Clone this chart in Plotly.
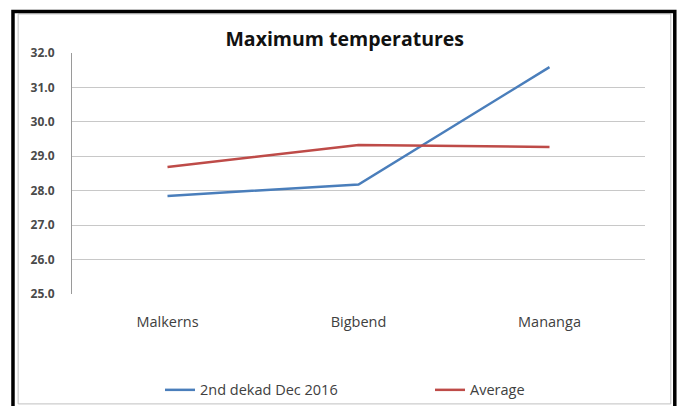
import plotly.graph_objects as go

categories = ["Malkerns", "Bigbend", "Mananga"]
dekad_dec_2016 = [27.85, 28.18, 31.59]
average = [28.69, 29.33, 29.27]
y_ticks = [25, 26, 27, 28, 29, 30, 31, 32]
y_tick_labels = ["25.0", "26.0", "27.0", "28.0", "29.0", "30.0", "31.0", "32.0"]

fig = go.Figure()
fig.add_trace(go.Scatter(x=categories, y=dekad_dec_2016, mode="lines",
                         name="2nd dekad Dec 2016",
                         line=dict(color="#4A7EBB", width=2.5)))
fig.add_trace(go.Scatter(x=categories, y=average, mode="lines",
                         name="Average",
                         line=dict(color="#BE4B48", width=2.5)))

fig.update_layout(
    width=681, height=406,
    margin=dict(l=72, r=36, t=53, b=112, autoexpand=False),
    paper_bgcolor="white", plot_bgcolor="white",
    font=dict(family="Open Sans, Liberation Sans, sans-serif", color="#404040"),
    title=dict(text="<b>Maximum temperatures</b>", x=0.476, xanchor="center",
               xref="paper", y=0.903, yanchor="middle",
               font=dict(size=19.5, color="#111111", family="Open Sans, sans-serif")),
    xaxis=dict(type="category", range=[-0.5, 2.5], showgrid=False,
               showline=False, ticks="", ticklabelstandoff=17, automargin=False,
               tickfont=dict(size=14.5, color="#404040")),
    yaxis=dict(range=[25, 32], tickvals=y_ticks, ticktext=y_tick_labels,
               showgrid=True, gridcolor="#C8C8C8", gridwidth=1,
               showline=True, linecolor="#9A9A9A", linewidth=1,
               ticks="", ticklabelstandoff=14, zeroline=False, automargin=False,
               tickfont=dict(size=12, color="#4A4A4A", weight="bold")),
    legend=dict(orientation="h", x=0.1536, xanchor="left", y=-0.398, yanchor="middle",
                font=dict(size=14.5, color="#404040"), entrywidth=225,
                itemwidth=30, bgcolor="rgba(0,0,0,0)"),
    showlegend=True,
)

# inner light grey chart frame
fig.add_shape(type="rect", xref="paper", yref="paper",
              x0=-0.094, x1=1.045, y0=-0.456, y1=1.162,
              line=dict(color="#C0C0C0", width=1), fillcolor="rgba(0,0,0,0)")
# outer black frame
fig.add_shape(type="rect", xref="paper", yref="paper",
              x0=-0.103, x1=1.052, y0=-0.55, y1=1.172,
              line=dict(color="black", width=3.5), fillcolor="rgba(0,0,0,0)")

fig.write_html("out.html", config={"displayModeBar": False},
               post_script="document.body.style.margin='0';")
